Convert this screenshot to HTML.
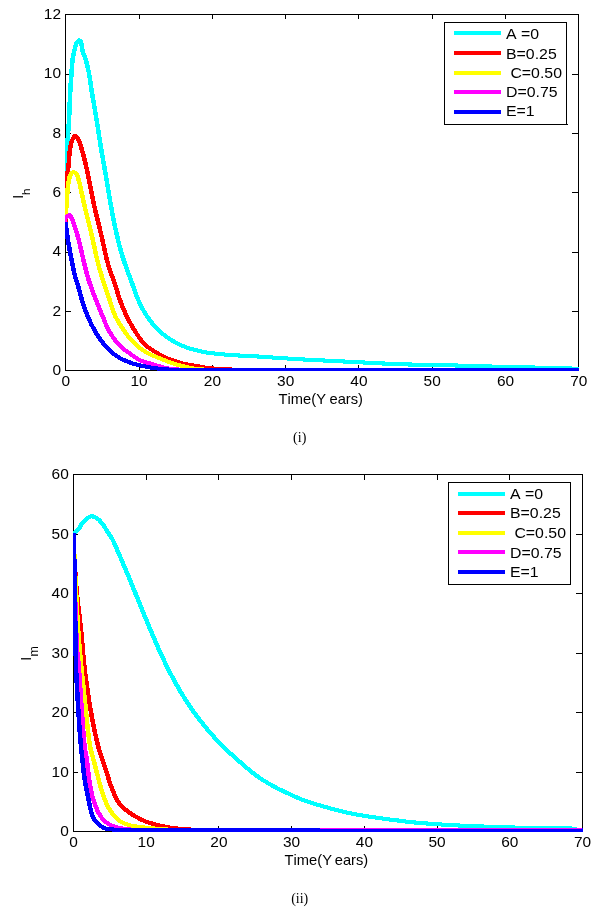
<!DOCTYPE html>
<html><head><meta charset="utf-8"><title>Figure</title>
<style>
html,body{margin:0;padding:0;background:#fff}
svg{display:block}
text{font-family:"Liberation Sans",sans-serif;fill:#000;font-kerning:none;white-space:pre}
.ser{font-family:"Liberation Serif",serif}
</style></head><body>
<svg width="607" height="911" viewBox="0 0 607 911">
<rect width="607" height="911" fill="#fff"/>
<defs><clipPath id="c1"><rect x="65" y="10" width="514" height="361"/></clipPath><clipPath id="c2"><rect x="73" y="470" width="510" height="366"/></clipPath></defs>
<g shape-rendering="crispEdges" stroke="#000" stroke-width="1" fill="none">
<rect x="65.5" y="14.5" width="513.0" height="356.0"/>
<path d="M139.5 370.5v-6M139.5 14.5v4.5M212.5 370.5v-6M212.5 14.5v4.5M285.5 370.5v-6M285.5 14.5v4.5M358.5 370.5v-6M358.5 14.5v4.5M432.5 370.5v-6M432.5 14.5v4.5M505.5 370.5v-6M505.5 14.5v4.5M65.5 311.5h5.5M578.5 311.5h-6.5M65.5 252.5h5.5M578.5 252.5h-6.5M65.5 192.5h5.5M578.5 192.5h-6.5M65.5 133.5h5.5M578.5 133.5h-6.5M65.5 74.5h5.5M578.5 74.5h-6.5"/></g>
<g clip-path="url(#c1)"><g transform="scale(1.1 1)" fill="none" stroke-width="4.1" stroke-linejoin="round" shape-rendering="crispEdges">
<path stroke="#00ffff" d="M59.55 222.00 L59.61 219.71 L59.67 217.42 L59.73 215.13 L59.80 212.84 L59.86 210.55 L59.92 208.26 L59.98 205.97 L60.04 203.68 L60.10 201.39 L60.16 199.10 L60.22 196.81 L60.28 194.52 L60.33 192.23 L60.39 189.94 L60.45 187.65 L60.51 185.36 L60.56 183.08 L60.62 180.79 L60.67 178.50 L60.72 176.21 L60.77 173.91 L60.82 171.62 L60.86 169.33 L60.91 167.04 L60.95 164.75 L60.99 162.46 L61.04 160.17 L61.08 157.88 L61.13 155.59 L61.18 153.30 L61.23 151.01 L61.29 148.72 L61.35 146.43 L61.41 144.14 L61.48 141.85 L61.56 139.57 L61.66 137.28 L61.79 134.99 L61.93 132.71 L62.09 130.42 L62.25 128.14 L62.41 125.86 L62.57 123.57 L62.70 121.28 L62.82 119.00 L62.91 116.71 L62.99 114.42 L63.07 112.13 L63.15 109.84 L63.24 107.55 L63.32 105.26 L63.41 102.98 L63.50 100.69 L63.59 98.40 L63.69 96.11 L63.79 93.82 L63.89 91.53 L64.00 89.25 L64.12 86.96 L64.25 84.67 L64.39 82.39 L64.54 80.10 L64.69 77.82 L64.84 75.53 L64.99 73.25 L65.14 70.96 L65.28 68.67 L65.43 66.38 L65.60 64.10 L65.79 61.82 L66.02 59.55 L66.31 57.29 L66.67 55.03 L67.09 52.78 L67.56 50.54 L68.07 48.32 L68.66 46.10 L69.37 43.94 L70.24 41.84 L71.66 40.22 L73.29 41.16 L73.92 43.42 L74.29 45.67 L74.55 47.96 L74.90 50.21 L75.47 52.39 L76.20 54.55 L76.97 56.69 L77.68 58.85 L78.25 61.05 L78.79 63.26 L79.31 65.48 L79.80 67.71 L80.26 69.95 L80.69 72.20 L81.08 74.44 L81.43 76.70 L81.75 78.96 L82.05 81.23 L82.33 83.50 L82.61 85.77 L82.91 88.04 L83.24 90.30 L83.58 92.56 L83.93 94.82 L84.28 97.07 L84.65 99.33 L85.01 101.59 L85.37 103.84 L85.73 106.10 L86.08 108.36 L86.43 110.62 L86.77 112.88 L87.10 115.14 L87.44 117.40 L87.77 119.66 L88.10 121.92 L88.42 124.18 L88.75 126.45 L89.07 128.71 L89.39 130.97 L89.71 133.24 L90.03 135.50 L90.35 137.76 L90.67 140.03 L91.00 142.29 L91.33 144.55 L91.66 146.81 L92.00 149.07 L92.34 151.33 L92.69 153.59 L93.04 155.85 L93.40 158.10 L93.77 160.36 L94.13 162.61 L94.50 164.87 L94.87 167.12 L95.23 169.38 L95.60 171.63 L95.96 173.89 L96.32 176.14 L96.68 178.40 L97.03 180.66 L97.37 182.92 L97.71 185.18 L98.05 187.44 L98.38 189.70 L98.71 191.96 L99.05 194.22 L99.39 196.48 L99.73 198.74 L100.08 201.00 L100.44 203.26 L100.81 205.51 L101.19 207.76 L101.57 210.01 L101.96 212.27 L102.35 214.52 L102.75 216.77 L103.15 219.01 L103.56 221.26 L103.98 223.51 L104.40 225.75 L104.83 227.99 L105.27 230.23 L105.72 232.46 L106.18 234.70 L106.65 236.93 L107.13 239.16 L107.62 241.39 L108.13 243.61 L108.65 245.83 L109.18 248.05 L109.73 250.26 L110.29 252.46 L110.88 254.65 L111.49 256.84 L112.12 259.02 L112.78 261.19 L113.45 263.36 L114.14 265.52 L114.85 267.68 L115.56 269.83 L116.28 271.99 L117.00 274.14 L117.72 276.29 L118.43 278.44 L119.14 280.60 L119.87 282.74 L120.60 284.89 L121.31 287.04 L122.01 289.21 L122.70 291.37 L123.40 293.53 L124.12 295.68 L124.88 297.81 L125.68 299.91 L126.53 302.00 L127.41 304.09 L128.34 306.16 L129.30 308.21 L130.29 310.23 L131.33 312.22 L132.41 314.15 L133.53 316.05 L134.71 317.93 L135.94 319.80 L137.21 321.64 L138.53 323.45 L139.89 325.23 L141.29 326.95 L142.71 328.62 L144.17 330.22 L145.66 331.77 L147.22 333.26 L148.84 334.72 L150.51 336.12 L152.22 337.47 L153.96 338.76 L155.71 339.99 L157.49 341.16 L159.30 342.29 L161.14 343.39 L163.02 344.42 L164.91 345.39 L166.83 346.27 L168.76 347.07 L170.73 347.82 L172.72 348.52 L174.72 349.17 L176.74 349.77 L178.76 350.33 L180.78 350.87 L182.81 351.38 L184.85 351.86 L186.90 352.29 L188.96 352.66 L191.01 352.98 L193.07 353.26 L195.14 353.53 L197.21 353.79 L199.28 354.02 L201.36 354.24 L203.43 354.45 L205.51 354.64 L207.59 354.83 L209.67 355.00 L211.75 355.16 L213.82 355.31 L215.90 355.45 L217.98 355.57 L220.06 355.69 L222.14 355.80 L224.22 355.91 L226.30 356.01 L228.38 356.12 L230.46 356.23 L232.54 356.36 L234.62 356.49 L236.70 356.63 L238.78 356.79 L240.85 356.95 L242.93 357.12 L245.01 357.29 L247.08 357.46 L249.16 357.63 L251.24 357.79 L253.31 357.94 L255.39 358.09 L257.47 358.24 L259.55 358.38 L261.63 358.53 L263.71 358.67 L265.78 358.81 L267.86 358.95 L269.94 359.08 L272.02 359.22 L274.10 359.35 L276.18 359.48 L278.26 359.60 L280.34 359.73 L282.42 359.85 L284.50 359.97 L286.58 360.08 L288.66 360.20 L290.74 360.31 L292.82 360.42 L294.90 360.53 L296.98 360.64 L299.06 360.75 L301.14 360.86 L303.22 360.98 L305.30 361.09 L307.38 361.21 L309.46 361.32 L311.54 361.43 L313.61 361.55 L315.69 361.66 L317.77 361.78 L319.85 361.89 L321.93 362.01 L324.01 362.12 L326.09 362.24 L328.17 362.35 L330.25 362.46 L332.33 362.58 L334.41 362.70 L336.49 362.83 L338.57 362.95 L340.65 363.07 L342.73 363.19 L344.81 363.31 L346.89 363.42 L348.97 363.53 L351.05 363.64 L353.13 363.74 L355.21 363.83 L357.29 363.92 L359.37 364.00 L361.45 364.09 L363.53 364.17 L365.62 364.25 L367.70 364.33 L369.78 364.41 L371.86 364.48 L373.94 364.54 L376.02 364.60 L378.11 364.66 L380.19 364.70 L382.27 364.75 L384.35 364.78 L386.43 364.81 L388.52 364.84 L390.60 364.87 L392.68 364.90 L394.76 364.94 L396.85 364.97 L398.93 365.02 L401.01 365.07 L403.09 365.12 L405.17 365.18 L407.25 365.25 L409.34 365.31 L411.42 365.38 L413.50 365.46 L415.58 365.53 L417.66 365.60 L419.74 365.67 L421.82 365.74 L423.91 365.81 L425.99 365.87 L428.07 365.94 L430.15 366.01 L432.23 366.08 L434.31 366.15 L436.39 366.22 L438.48 366.28 L440.56 366.35 L442.64 366.41 L444.72 366.48 L446.80 366.54 L448.88 366.59 L450.97 366.65 L453.05 366.70 L455.13 366.75 L457.21 366.80 L459.29 366.84 L461.38 366.89 L463.46 366.94 L465.54 366.98 L467.62 367.03 L469.70 367.08 L471.79 367.13 L473.87 367.18 L475.95 367.24 L478.03 367.30 L480.11 367.36 L482.19 367.43 L484.28 367.49 L486.36 367.56 L488.44 367.63 L490.52 367.70 L492.60 367.77 L494.68 367.84 L496.76 367.90 L498.85 367.97 L500.93 368.03 L503.01 368.09 L505.09 368.15 L507.17 368.20 L509.25 368.26 L511.34 368.32 L513.42 368.38 L515.50 368.43 L517.58 368.49 L519.66 368.54 L521.75 368.60 L523.83 368.65 L525.91 368.70"/>
<path stroke="#ff0000" d="M59.55 222.00 L59.57 220.12 L59.59 218.25 L59.62 216.37 L59.66 214.49 L59.69 212.62 L59.73 210.74 L59.78 208.87 L59.82 206.99 L59.87 205.12 L59.91 203.24 L59.96 201.36 L60.01 199.49 L60.07 197.61 L60.12 195.74 L60.18 193.86 L60.24 191.98 L60.31 190.11 L60.38 188.23 L60.46 186.36 L60.55 184.48 L60.64 182.61 L60.74 180.74 L60.84 178.87 L60.99 177.00 L61.17 175.14 L61.37 173.27 L61.59 171.41 L61.81 169.55 L62.03 167.69 L62.24 165.82 L62.41 163.96 L62.56 162.08 L62.69 160.21 L62.81 158.33 L62.94 156.45 L63.07 154.58 L63.23 152.71 L63.41 150.86 L63.63 149.01 L63.92 147.14 L64.28 145.26 L64.70 143.40 L65.20 141.60 L65.78 139.88 L66.53 138.10 L67.61 136.28 L68.73 135.77 L69.90 137.14 L70.89 138.94 L71.64 140.57 L72.29 142.29 L72.87 144.07 L73.41 145.89 L73.91 147.72 L74.41 149.53 L74.89 151.32 L75.35 153.13 L75.80 154.94 L76.22 156.76 L76.63 158.58 L77.03 160.41 L77.43 162.24 L77.82 164.06 L78.20 165.89 L78.58 167.72 L78.95 169.55 L79.31 171.39 L79.67 173.22 L80.02 175.06 L80.37 176.90 L80.71 178.73 L81.05 180.57 L81.39 182.41 L81.71 184.25 L82.04 186.10 L82.36 187.94 L82.68 189.78 L83.01 191.62 L83.34 193.46 L83.68 195.30 L84.02 197.14 L84.36 198.98 L84.70 200.82 L85.05 202.65 L85.41 204.49 L85.77 206.32 L86.14 208.15 L86.52 209.98 L86.91 211.81 L87.31 213.63 L87.70 215.46 L88.11 217.28 L88.51 219.10 L88.92 220.93 L89.34 222.75 L89.75 224.57 L90.16 226.39 L90.57 228.21 L90.98 230.03 L91.38 231.86 L91.78 233.68 L92.17 235.51 L92.56 237.34 L92.94 239.17 L93.31 241.00 L93.67 242.84 L94.04 244.67 L94.40 246.51 L94.76 248.35 L95.13 250.18 L95.50 252.02 L95.88 253.85 L96.27 255.67 L96.66 257.50 L97.07 259.32 L97.49 261.13 L97.93 262.94 L98.39 264.74 L98.87 266.53 L99.39 268.32 L99.92 270.10 L100.48 271.87 L101.05 273.64 L101.63 275.40 L102.22 277.17 L102.80 278.94 L103.38 280.71 L103.95 282.48 L104.50 284.26 L105.03 286.04 L105.55 287.83 L106.05 289.62 L106.55 291.42 L107.04 293.22 L107.55 295.01 L108.07 296.80 L108.61 298.57 L109.18 300.34 L109.76 302.10 L110.37 303.86 L110.99 305.61 L111.63 307.35 L112.28 309.09 L112.95 310.82 L113.64 312.53 L114.35 314.23 L115.07 315.93 L115.82 317.61 L116.59 319.29 L117.37 320.97 L118.18 322.63 L119.01 324.27 L119.85 325.91 L120.72 327.52 L121.60 329.12 L122.50 330.71 L123.42 332.31 L124.35 333.91 L125.30 335.51 L126.27 337.08 L127.27 338.63 L128.31 340.14 L129.37 341.59 L130.48 342.98 L131.63 344.29 L132.85 345.54 L134.15 346.74 L135.51 347.89 L136.92 349.00 L138.36 350.06 L139.81 351.07 L141.25 352.05 L142.71 353.01 L144.20 353.95 L145.70 354.86 L147.22 355.74 L148.75 356.59 L150.30 357.40 L151.86 358.17 L153.42 358.89 L155.00 359.57 L156.59 360.22 L158.20 360.85 L159.82 361.46 L161.46 362.04 L163.10 362.58 L164.74 363.08 L166.40 363.55 L168.05 363.97 L169.71 364.35 L171.39 364.71 L173.07 365.04 L174.75 365.35 L176.44 365.66 L178.13 365.96 L179.81 366.27 L181.49 366.58 L183.17 366.91 L184.86 367.24 L186.54 367.56 L188.23 367.84 L189.92 368.08 L191.61 368.27 L193.30 368.44 L195.00 368.60 L196.70 368.74 L198.41 368.88 L200.11 369.00 L201.81 369.11 L203.52 369.21 L205.23 369.30 L206.93 369.38 L208.63 369.46 L210.34 369.53 L212.04 369.61 L213.75 369.68 L215.45 369.74 L217.16 369.80 L218.86 369.86 L220.57 369.91 L222.27 369.95 L223.98 369.98 L225.69 369.99 L227.39 370.00 L229.10 370.00 L230.80 370.00 L232.51 370.00 L234.21 370.00 L235.92 370.00 L237.62 370.00 L239.33 370.00 L241.03 370.00 L242.74 370.00 L244.45 370.00 L246.15 370.00 L247.86 370.00 L249.56 370.00 L251.27 370.00 L252.97 370.00 L254.68 370.00 L256.38 370.00 L258.09 370.00 L259.79 370.00 L261.50 370.00 L263.21 370.00 L264.91 370.00 L266.62 370.00 L268.32 370.00 L270.03 370.00 L271.73 370.00 L273.44 370.00 L275.14 370.00 L276.85 370.00 L278.55 370.00 L280.26 370.00 L281.97 370.00 L283.67 370.00 L285.38 370.00 L287.08 370.00 L288.79 370.00 L290.49 370.00 L292.20 370.00 L293.90 370.00 L295.61 370.00 L297.32 370.00 L299.02 370.00 L300.73 370.00 L302.43 370.00 L304.14 370.00 L305.84 370.00 L307.55 370.00 L309.25 370.00 L310.96 370.00 L312.67 370.00 L314.37 370.00 L316.08 370.00 L317.78 370.00 L319.49 370.00 L321.19 370.00 L322.90 370.00 L324.60 370.00 L326.31 370.00 L328.02 370.00 L329.72 370.00 L331.43 370.00 L333.13 370.00 L334.84 370.00 L336.54 370.00 L338.25 370.00 L339.96 370.00 L341.66 370.00 L343.37 370.00 L345.07 370.00 L346.78 370.00 L348.48 370.00 L350.19 370.00 L351.90 370.00 L353.60 370.00 L355.31 370.00 L357.01 370.00 L358.72 370.00 L360.42 370.00 L362.13 370.00 L363.84 370.00 L365.54 370.00 L367.25 370.00 L368.95 370.00 L370.66 370.00 L372.36 370.00 L374.07 370.00 L375.78 370.00 L377.48 370.00 L379.19 370.00 L380.89 370.00 L382.60 370.00 L384.30 370.00 L386.01 370.00 L387.72 370.00 L389.42 370.00 L391.13 370.00 L392.83 370.00 L394.54 370.00 L396.24 370.00 L397.95 370.00 L399.66 370.00 L401.36 370.00 L403.07 370.00 L404.77 370.00 L406.48 370.00 L408.19 370.00 L409.89 370.00 L411.60 370.00 L413.30 370.00 L415.01 370.00 L416.72 370.00 L418.42 370.00 L420.13 370.00 L421.83 370.00 L423.54 370.00 L425.25 370.00 L426.95 370.00 L428.66 370.00 L430.36 370.00 L432.07 370.00 L433.77 370.00 L435.48 370.00 L437.19 370.00 L438.89 370.00 L440.60 370.00 L442.30 370.00 L444.01 370.00 L445.72 370.00 L447.42 370.00 L449.13 370.00 L450.84 370.00 L452.54 370.00 L454.25 370.00 L455.95 370.00 L457.66 370.00 L459.37 370.00 L461.07 370.00 L462.78 370.00 L464.48 370.00 L466.19 370.00 L467.90 370.00 L469.60 370.00 L471.31 370.00 L473.01 370.00 L474.72 370.00 L476.43 370.00 L478.13 370.00 L479.84 370.00 L481.55 370.00 L483.25 370.00 L484.96 370.00 L486.66 370.00 L488.37 370.00 L490.08 370.00 L491.78 370.00 L493.49 370.00 L495.20 370.00 L496.90 370.00 L498.61 370.00 L500.31 370.00 L502.02 370.00 L503.73 370.00 L505.43 370.00 L507.14 370.00 L508.85 370.00 L510.55 370.00 L512.26 370.00 L513.96 370.00 L515.67 370.00 L517.38 370.00 L519.08 370.00 L520.79 370.00 L522.50 370.00 L524.20 370.00 L525.91 370.00"/>
<path stroke="#ffff00" d="M59.27 216.00 L59.53 214.32 L59.77 212.63 L59.98 210.94 L60.16 209.25 L60.30 207.55 L60.41 205.85 L60.51 204.15 L60.60 202.45 L60.69 200.75 L60.78 199.04 L60.87 197.34 L60.98 195.64 L61.10 193.94 L61.24 192.24 L61.39 190.53 L61.55 188.83 L61.72 187.12 L61.91 185.42 L62.12 183.73 L62.36 182.05 L62.63 180.38 L62.93 178.73 L63.32 177.02 L63.84 175.37 L64.49 173.89 L65.57 172.63 L67.05 172.20 L68.51 172.69 L69.54 174.01 L70.22 175.49 L70.76 177.11 L71.22 178.77 L71.65 180.40 L72.05 182.05 L72.41 183.70 L72.76 185.36 L73.09 187.03 L73.41 188.71 L73.72 190.38 L74.04 192.05 L74.38 193.72 L74.72 195.38 L75.06 197.05 L75.40 198.71 L75.73 200.38 L76.07 202.04 L76.41 203.70 L76.76 205.36 L77.11 207.03 L77.47 208.68 L77.83 210.34 L78.19 212.00 L78.56 213.66 L78.93 215.31 L79.31 216.97 L79.68 218.62 L80.06 220.28 L80.43 221.93 L80.81 223.58 L81.18 225.24 L81.56 226.89 L81.93 228.55 L82.29 230.21 L82.66 231.86 L83.02 233.52 L83.38 235.18 L83.72 236.84 L84.07 238.51 L84.40 240.17 L84.73 241.84 L85.06 243.51 L85.39 245.17 L85.72 246.84 L86.04 248.51 L86.37 250.18 L86.70 251.85 L87.03 253.51 L87.37 255.18 L87.71 256.84 L88.06 258.50 L88.42 260.16 L88.79 261.81 L89.17 263.46 L89.56 265.11 L89.96 266.75 L90.37 268.39 L90.79 270.03 L91.23 271.67 L91.67 273.31 L92.12 274.94 L92.57 276.57 L93.03 278.20 L93.50 279.83 L93.97 281.46 L94.44 283.08 L94.91 284.70 L95.39 286.32 L95.88 287.94 L96.39 289.55 L96.89 291.17 L97.41 292.77 L97.92 294.38 L98.44 295.99 L98.95 297.60 L99.45 299.21 L99.95 300.83 L100.42 302.46 L100.89 304.10 L101.34 305.74 L101.80 307.37 L102.27 309.00 L102.76 310.62 L103.28 312.22 L103.84 313.80 L104.44 315.35 L105.11 316.87 L105.83 318.38 L106.60 319.87 L107.40 321.35 L108.21 322.81 L109.02 324.27 L109.83 325.72 L110.65 327.17 L111.48 328.62 L112.33 330.06 L113.20 331.48 L114.09 332.87 L115.01 334.24 L115.96 335.57 L116.93 336.88 L117.94 338.18 L118.97 339.47 L120.02 340.75 L121.10 342.00 L122.20 343.23 L123.32 344.42 L124.46 345.58 L125.63 346.69 L126.81 347.76 L128.02 348.78 L129.28 349.77 L130.58 350.72 L131.91 351.63 L133.26 352.50 L134.62 353.32 L135.99 354.09 L137.38 354.81 L138.80 355.49 L140.24 356.14 L141.68 356.77 L143.14 357.39 L144.58 358.02 L146.02 358.65 L147.46 359.30 L148.89 359.95 L150.33 360.59 L151.77 361.23 L153.22 361.84 L154.67 362.43 L156.13 362.98 L157.61 363.51 L159.09 364.01 L160.57 364.49 L162.07 364.96 L163.56 365.41 L165.06 365.85 L166.56 366.28 L168.07 366.70 L169.57 367.13 L171.08 367.54 L172.59 367.91 L174.11 368.20 L175.64 368.45 L177.18 368.68 L178.72 368.89 L180.26 369.08 L181.81 369.25 L183.35 369.40 L184.90 369.52 L186.45 369.60 L187.99 369.68 L189.54 369.74 L191.09 369.81 L192.64 369.86 L194.19 369.91 L195.74 369.95 L197.29 369.98 L198.84 370.00 L200.39 370.00 L201.94 370.00 L203.49 370.00 L205.04 370.00 L206.59 370.00 L208.14 370.00 L209.69 370.00 L211.24 370.00 L212.79 370.00 L214.34 370.00 L215.89 370.00 L217.44 370.00 L218.99 370.00 L220.54 370.00 L222.09 370.00 L223.64 370.00 L225.19 370.00 L226.74 370.00 L228.29 370.00 L229.84 370.00 L231.39 370.00 L232.94 370.00 L234.49 370.00 L236.04 370.00 L237.59 370.00 L239.14 370.00 L240.69 370.00 L242.24 370.00 L243.79 370.00 L245.34 370.00 L246.89 370.00 L248.44 370.00 L249.99 370.00 L251.54 370.00 L253.09 370.00 L254.64 370.00 L256.18 370.00 L257.73 370.00 L259.28 370.00 L260.83 370.00 L262.38 370.00 L263.93 370.00 L265.48 370.00 L267.03 370.00 L268.58 370.00 L270.13 370.00 L271.68 370.00 L273.23 370.00 L274.78 370.00 L276.33 370.00 L277.88 370.00 L279.43 370.00 L280.98 370.00 L282.53 370.00 L284.08 370.00 L285.63 370.00 L287.18 370.00 L288.73 370.00 L290.28 370.00 L291.83 370.00 L293.38 370.00 L294.93 370.00 L296.48 370.00 L298.03 370.00 L299.58 370.00 L301.13 370.00 L302.68 370.00 L304.23 370.00 L305.78 370.00 L307.33 370.00 L308.88 370.00 L310.43 370.00 L311.98 370.00 L313.53 370.00 L315.08 370.00 L316.63 370.00 L318.18 370.00 L319.73 370.00 L321.28 370.00 L322.83 370.00 L324.38 370.00 L325.93 370.00 L327.48 370.00 L329.03 370.00 L330.58 370.00 L332.13 370.00 L333.68 370.00 L335.23 370.00 L336.78 370.00 L338.33 370.00 L339.88 370.00 L341.43 370.00 L342.98 370.00 L344.53 370.00 L346.08 370.00 L347.63 370.00 L349.18 370.00 L350.73 370.00 L352.28 370.00 L353.83 370.00 L355.38 370.00 L356.93 370.00 L358.48 370.00 L360.03 370.00 L361.58 370.00 L363.13 370.00 L364.68 370.00 L366.23 370.00 L367.78 370.00 L369.33 370.00 L370.88 370.00 L372.43 370.00 L373.98 370.00 L375.53 370.00 L377.08 370.00 L378.63 370.00 L380.18 370.00 L381.73 370.00 L383.28 370.00 L384.83 370.00 L386.38 370.00 L387.93 370.00 L389.48 370.00 L391.03 370.00 L392.58 370.00 L394.13 370.00 L395.68 370.00 L397.23 370.00 L398.78 370.00 L400.33 370.00 L401.88 370.00 L403.43 370.00 L404.98 370.00 L406.53 370.00 L408.08 370.00 L409.63 370.00 L411.18 370.00 L412.73 370.00 L414.28 370.00 L415.83 370.00 L417.38 370.00 L418.93 370.00 L420.48 370.00 L422.03 370.00 L423.58 370.00 L425.13 370.00 L426.68 370.00 L428.23 370.00 L429.78 370.00 L431.33 370.00 L432.88 370.00 L434.43 370.00 L435.98 370.00 L437.53 370.00 L439.09 370.00 L440.64 370.00 L442.19 370.00 L443.74 370.00 L445.29 370.00 L446.84 370.00 L448.39 370.00 L449.94 370.00 L451.49 370.00 L453.04 370.00 L454.59 370.00 L456.14 370.00 L457.69 370.00 L459.24 370.00 L460.79 370.00 L462.34 370.00 L463.89 370.00 L465.44 370.00 L466.99 370.00 L468.54 370.00 L470.09 370.00 L471.64 370.00 L473.19 370.00 L474.74 370.00 L476.29 370.00 L477.84 370.00 L479.39 370.00 L480.94 370.00 L482.49 370.00 L484.05 370.00 L485.60 370.00 L487.15 370.00 L488.70 370.00 L490.25 370.00 L491.80 370.00 L493.35 370.00 L494.90 370.00 L496.45 370.00 L498.00 370.00 L499.55 370.00 L501.10 370.00 L502.65 370.00 L504.20 370.00 L505.75 370.00 L507.30 370.00 L508.85 370.00 L510.40 370.00 L511.95 370.00 L513.50 370.00 L515.06 370.00 L516.61 370.00 L518.16 370.00 L519.71 370.00 L521.26 370.00 L522.81 370.00 L524.36 370.00 L525.91 370.00"/>
<path stroke="#ff00ff" d="M58.64 222.00 L58.89 220.40 L59.36 218.94 L59.95 217.60 L60.78 216.30 L61.96 215.55 L63.27 215.32 L64.19 216.12 L64.96 217.64 L65.62 219.31 L66.18 220.72 L66.65 222.15 L67.07 223.63 L67.47 225.12 L67.89 226.61 L68.32 228.07 L68.77 229.53 L69.22 230.99 L69.65 232.46 L70.07 233.93 L70.45 235.41 L70.83 236.89 L71.18 238.38 L71.53 239.87 L71.87 241.36 L72.20 242.86 L72.53 244.36 L72.85 245.86 L73.17 247.36 L73.50 248.86 L73.82 250.36 L74.14 251.86 L74.45 253.36 L74.75 254.86 L75.06 256.37 L75.36 257.87 L75.67 259.37 L75.98 260.88 L76.30 262.37 L76.63 263.87 L76.97 265.37 L77.31 266.86 L77.65 268.35 L78.01 269.85 L78.36 271.34 L78.72 272.82 L79.10 274.31 L79.48 275.79 L79.86 277.27 L80.27 278.75 L80.68 280.21 L81.12 281.68 L81.58 283.13 L82.05 284.59 L82.52 286.04 L82.99 287.49 L83.46 288.94 L83.94 290.38 L84.43 291.83 L84.91 293.27 L85.41 294.71 L85.90 296.15 L86.41 297.59 L86.91 299.03 L87.42 300.46 L87.93 301.90 L88.45 303.33 L88.98 304.75 L89.51 306.18 L90.04 307.60 L90.58 309.03 L91.11 310.45 L91.65 311.87 L92.19 313.29 L92.73 314.71 L93.26 316.14 L93.79 317.58 L94.30 319.02 L94.82 320.47 L95.33 321.91 L95.86 323.34 L96.41 324.77 L96.97 326.17 L97.56 327.56 L98.18 328.92 L98.83 330.26 L99.51 331.59 L100.22 332.92 L100.96 334.25 L101.73 335.57 L102.52 336.87 L103.34 338.15 L104.18 339.41 L105.04 340.65 L105.92 341.85 L106.82 343.02 L107.73 344.15 L108.67 345.24 L109.64 346.30 L110.65 347.32 L111.70 348.32 L112.78 349.30 L113.89 350.25 L115.02 351.19 L116.17 352.10 L117.33 353.01 L118.50 353.90 L119.66 354.79 L120.82 355.67 L121.97 356.55 L123.12 357.45 L124.28 358.36 L125.45 359.21 L126.66 359.97 L127.90 360.60 L129.20 361.13 L130.53 361.61 L131.88 362.06 L133.24 362.48 L134.60 362.91 L135.94 363.36 L137.28 363.82 L138.61 364.27 L139.95 364.72 L141.30 365.16 L142.64 365.59 L143.99 366.02 L145.33 366.43 L146.68 366.86 L148.04 367.29 L149.39 367.69 L150.75 368.03 L152.12 368.28 L153.50 368.51 L154.89 368.72 L156.28 368.91 L157.67 369.09 L159.07 369.25 L160.47 369.38 L161.87 369.49 L163.27 369.58 L164.66 369.65 L166.06 369.71 L167.46 369.77 L168.86 369.83 L170.26 369.87 L171.66 369.92 L173.06 369.95 L174.46 369.98 L175.86 369.99 L177.26 370.00 L178.66 370.00 L180.06 370.00 L181.46 370.00 L182.86 370.00 L184.26 370.00 L185.66 370.00 L187.06 370.00 L188.46 370.00 L189.86 370.00 L191.26 370.00 L192.66 370.00 L194.06 370.00 L195.46 370.00 L196.86 370.00 L198.26 370.00 L199.66 370.00 L201.06 370.00 L202.46 370.00 L203.86 370.00 L205.26 370.00 L206.66 370.00 L208.06 370.00 L209.46 370.00 L210.86 370.00 L212.26 370.00 L213.66 370.00 L215.06 370.00 L216.46 370.00 L217.86 370.00 L219.26 370.00 L220.66 370.00 L222.06 370.00 L223.46 370.00 L224.86 370.00 L226.26 370.00 L227.66 370.00 L229.06 370.00 L230.46 370.00 L231.86 370.00 L233.26 370.00 L234.66 370.00 L236.06 370.00 L237.46 370.00 L238.86 370.00 L240.26 370.00 L241.66 370.00 L243.06 370.00 L244.46 370.00 L245.86 370.00 L247.26 370.00 L248.66 370.00 L250.06 370.00 L251.46 370.00 L252.86 370.00 L254.26 370.00 L255.66 370.00 L257.06 370.00 L258.46 370.00 L259.86 370.00 L261.26 370.00 L262.66 370.00 L264.06 370.00 L265.46 370.00 L266.86 370.00 L268.26 370.00 L269.66 370.00 L271.06 370.00 L272.46 370.00 L273.86 370.00 L275.26 370.00 L276.66 370.00 L278.06 370.00 L279.46 370.00 L280.86 370.00 L282.26 370.00 L283.66 370.00 L285.06 370.00 L286.46 370.00 L287.86 370.00 L289.26 370.00 L290.66 370.00 L292.06 370.00 L293.46 370.00 L294.86 370.00 L296.26 370.00 L297.66 370.00 L299.06 370.00 L300.46 370.00 L301.86 370.00 L303.26 370.00 L304.66 370.00 L306.06 370.00 L307.46 370.00 L308.86 370.00 L310.26 370.00 L311.66 370.00 L313.06 370.00 L314.46 370.00 L315.86 370.00 L317.26 370.00 L318.66 370.00 L320.06 370.00 L321.46 370.00 L322.86 370.00 L324.26 370.00 L325.66 370.00 L327.06 370.00 L328.46 370.00 L329.86 370.00 L331.26 370.00 L332.66 370.00 L334.06 370.00 L335.46 370.00 L336.86 370.00 L338.26 370.00 L339.66 370.00 L341.06 370.00 L342.46 370.00 L343.86 370.00 L345.26 370.00 L346.66 370.00 L348.06 370.00 L349.46 370.00 L350.86 370.00 L352.26 370.00 L353.66 370.00 L355.06 370.00 L356.46 370.00 L357.86 370.00 L359.26 370.00 L360.66 370.00 L362.06 370.00 L363.46 370.00 L364.86 370.00 L366.26 370.00 L367.66 370.00 L369.06 370.00 L370.46 370.00 L371.86 370.00 L373.26 370.00 L374.66 370.00 L376.06 370.00 L377.46 370.00 L378.86 370.00 L380.27 370.00 L381.67 370.00 L383.07 370.00 L384.47 370.00 L385.87 370.00 L387.27 370.00 L388.67 370.00 L390.07 370.00 L391.47 370.00 L392.87 370.00 L394.27 370.00 L395.67 370.00 L397.07 370.00 L398.47 370.00 L399.87 370.00 L401.27 370.00 L402.67 370.00 L404.07 370.00 L405.47 370.00 L406.87 370.00 L408.27 370.00 L409.67 370.00 L411.07 370.00 L412.47 370.00 L413.87 370.00 L415.27 370.00 L416.67 370.00 L418.07 370.00 L419.47 370.00 L420.87 370.00 L422.27 370.00 L423.67 370.00 L425.07 370.00 L426.47 370.00 L427.87 370.00 L429.27 370.00 L430.68 370.00 L432.08 370.00 L433.48 370.00 L434.88 370.00 L436.28 370.00 L437.68 370.00 L439.08 370.00 L440.48 370.00 L441.88 370.00 L443.28 370.00 L444.68 370.00 L446.08 370.00 L447.48 370.00 L448.88 370.00 L450.28 370.00 L451.68 370.00 L453.08 370.00 L454.48 370.00 L455.88 370.00 L457.28 370.00 L458.68 370.00 L460.08 370.00 L461.48 370.00 L462.88 370.00 L464.28 370.00 L465.69 370.00 L467.09 370.00 L468.49 370.00 L469.89 370.00 L471.29 370.00 L472.69 370.00 L474.09 370.00 L475.49 370.00 L476.89 370.00 L478.29 370.00 L479.69 370.00 L481.09 370.00 L482.49 370.00 L483.89 370.00 L485.29 370.00 L486.69 370.00 L488.09 370.00 L489.49 370.00 L490.89 370.00 L492.29 370.00 L493.70 370.00 L495.10 370.00 L496.50 370.00 L497.90 370.00 L499.30 370.00 L500.70 370.00 L502.10 370.00 L503.50 370.00 L504.90 370.00 L506.30 370.00 L507.70 370.00 L509.10 370.00 L510.50 370.00 L511.90 370.00 L513.30 370.00 L514.70 370.00 L516.10 370.00 L517.51 370.00 L518.91 370.00 L520.31 370.00 L521.71 370.00 L523.11 370.00 L524.51 370.00 L525.91 370.00"/>
<path stroke="#0000ff" d="M59.55 222.00 L59.72 223.52 L59.89 225.04 L60.07 226.56 L60.24 228.08 L60.42 229.60 L60.60 231.11 L60.78 232.63 L60.96 234.15 L61.16 235.67 L61.35 237.18 L61.56 238.70 L61.78 240.21 L62.00 241.72 L62.24 243.23 L62.49 244.73 L62.73 246.24 L62.98 247.75 L63.23 249.25 L63.48 250.76 L63.73 252.27 L63.98 253.77 L64.23 255.28 L64.48 256.79 L64.74 258.29 L65.00 259.80 L65.27 261.30 L65.54 262.80 L65.82 264.30 L66.10 265.80 L66.38 267.30 L66.67 268.80 L66.96 270.30 L67.26 271.80 L67.57 273.29 L67.89 274.78 L68.22 276.27 L68.57 277.75 L68.94 279.22 L69.36 280.68 L69.82 282.12 L70.29 283.57 L70.73 285.02 L71.13 286.48 L71.51 287.96 L71.88 289.43 L72.24 290.91 L72.59 292.40 L72.94 293.88 L73.30 295.36 L73.67 296.84 L74.05 298.31 L74.45 299.77 L74.86 301.23 L75.28 302.69 L75.71 304.15 L76.15 305.61 L76.60 307.06 L77.06 308.51 L77.53 309.95 L78.01 311.39 L78.51 312.82 L79.01 314.24 L79.53 315.65 L80.07 317.07 L80.62 318.48 L81.18 319.88 L81.76 321.28 L82.35 322.67 L82.96 324.06 L83.58 325.43 L84.22 326.79 L84.87 328.14 L85.53 329.48 L86.21 330.81 L86.91 332.14 L87.62 333.47 L88.35 334.79 L89.10 336.11 L89.86 337.41 L90.65 338.69 L91.45 339.95 L92.27 341.18 L93.11 342.39 L93.98 343.56 L94.86 344.70 L95.77 345.83 L96.72 346.96 L97.69 348.08 L98.68 349.19 L99.70 350.28 L100.75 351.34 L101.81 352.38 L102.89 353.39 L103.99 354.36 L105.11 355.29 L106.24 356.16 L107.38 356.99 L108.54 357.75 L109.72 358.47 L110.93 359.16 L112.18 359.82 L113.46 360.45 L114.75 361.06 L116.06 361.64 L117.38 362.19 L118.71 362.72 L120.04 363.22 L121.37 363.71 L122.69 364.17 L124.03 364.60 L125.37 365.00 L126.73 365.36 L128.08 365.70 L129.44 366.01 L130.81 366.30 L132.18 366.58 L133.55 366.85 L134.93 367.10 L136.30 367.36 L137.67 367.61 L139.05 367.87 L140.42 368.12 L141.80 368.35 L143.18 368.55 L144.56 368.72 L145.94 368.87 L147.33 369.00 L148.71 369.13 L150.10 369.26 L151.49 369.38 L152.88 369.50 L154.27 369.61 L155.66 369.71 L157.05 369.80 L158.44 369.87 L159.84 369.93 L161.23 369.97 L162.62 369.99 L164.01 370.00 L165.40 370.00 L166.79 370.00 L168.18 370.00 L169.57 370.00 L170.96 370.00 L172.35 370.00 L173.74 370.00 L175.13 370.00 L176.52 370.00 L177.91 370.00 L179.30 370.00 L180.69 370.00 L182.08 370.00 L183.47 370.00 L184.86 370.00 L186.26 370.00 L187.65 370.00 L189.04 370.00 L190.43 370.00 L191.82 370.00 L193.21 370.00 L194.60 370.00 L195.99 370.00 L197.38 370.00 L198.77 370.00 L200.16 370.00 L201.55 370.00 L202.94 370.00 L204.33 370.00 L205.72 370.00 L207.11 370.00 L208.50 370.00 L209.89 370.00 L211.28 370.00 L212.68 370.00 L214.07 370.00 L215.46 370.00 L216.85 370.00 L218.24 370.00 L219.63 370.00 L221.02 370.00 L222.41 370.00 L223.80 370.00 L225.19 370.00 L226.58 370.00 L227.97 370.00 L229.36 370.00 L230.75 370.00 L232.14 370.00 L233.54 370.00 L234.93 370.00 L236.32 370.00 L237.71 370.00 L239.10 370.00 L240.49 370.00 L241.88 370.00 L243.27 370.00 L244.66 370.00 L246.05 370.00 L247.44 370.00 L248.83 370.00 L250.22 370.00 L251.62 370.00 L253.01 370.00 L254.40 370.00 L255.79 370.00 L257.18 370.00 L258.57 370.00 L259.96 370.00 L261.35 370.00 L262.74 370.00 L264.13 370.00 L265.52 370.00 L266.92 370.00 L268.31 370.00 L269.70 370.00 L271.09 370.00 L272.48 370.00 L273.87 370.00 L275.26 370.00 L276.65 370.00 L278.04 370.00 L279.44 370.00 L280.83 370.00 L282.22 370.00 L283.61 370.00 L285.00 370.00 L286.39 370.00 L287.78 370.00 L289.17 370.00 L290.56 370.00 L291.96 370.00 L293.35 370.00 L294.74 370.00 L296.13 370.00 L297.52 370.00 L298.91 370.00 L300.30 370.00 L301.69 370.00 L303.09 370.00 L304.48 370.00 L305.87 370.00 L307.26 370.00 L308.65 370.00 L310.04 370.00 L311.43 370.00 L312.83 370.00 L314.22 370.00 L315.61 370.00 L317.00 370.00 L318.39 370.00 L319.78 370.00 L321.17 370.00 L322.57 370.00 L323.96 370.00 L325.35 370.00 L326.74 370.00 L328.13 370.00 L329.52 370.00 L330.91 370.00 L332.31 370.00 L333.70 370.00 L335.09 370.00 L336.48 370.00 L337.87 370.00 L339.26 370.00 L340.66 370.00 L342.05 370.00 L343.44 370.00 L344.83 370.00 L346.22 370.00 L347.62 370.00 L349.01 370.00 L350.40 370.00 L351.79 370.00 L353.18 370.00 L354.57 370.00 L355.97 370.00 L357.36 370.00 L358.75 370.00 L360.14 370.00 L361.53 370.00 L362.93 370.00 L364.32 370.00 L365.71 370.00 L367.10 370.00 L368.49 370.00 L369.89 370.00 L371.28 370.00 L372.67 370.00 L374.06 370.00 L375.45 370.00 L376.85 370.00 L378.24 370.00 L379.63 370.00 L381.02 370.00 L382.41 370.00 L383.81 370.00 L385.20 370.00 L386.59 370.00 L387.98 370.00 L389.38 370.00 L390.77 370.00 L392.16 370.00 L393.55 370.00 L394.94 370.00 L396.34 370.00 L397.73 370.00 L399.12 370.00 L400.51 370.00 L401.91 370.00 L403.30 370.00 L404.69 370.00 L406.08 370.00 L407.48 370.00 L408.87 370.00 L410.26 370.00 L411.65 370.00 L413.05 370.00 L414.44 370.00 L415.83 370.00 L417.22 370.00 L418.62 370.00 L420.01 370.00 L421.40 370.00 L422.79 370.00 L424.19 370.00 L425.58 370.00 L426.97 370.00 L428.37 370.00 L429.76 370.00 L431.15 370.00 L432.54 370.00 L433.94 370.00 L435.33 370.00 L436.72 370.00 L438.12 370.00 L439.51 370.00 L440.90 370.00 L442.29 370.00 L443.69 370.00 L445.08 370.00 L446.47 370.00 L447.87 370.00 L449.26 370.00 L450.65 370.00 L452.05 370.00 L453.44 370.00 L454.83 370.00 L456.22 370.00 L457.62 370.00 L459.01 370.00 L460.40 370.00 L461.80 370.00 L463.19 370.00 L464.58 370.00 L465.98 370.00 L467.37 370.00 L468.76 370.00 L470.16 370.00 L471.55 370.00 L472.94 370.00 L474.34 370.00 L475.73 370.00 L477.12 370.00 L478.52 370.00 L479.91 370.00 L481.30 370.00 L482.70 370.00 L484.09 370.00 L485.49 370.00 L486.88 370.00 L488.27 370.00 L489.67 370.00 L491.06 370.00 L492.45 370.00 L493.85 370.00 L495.24 370.00 L496.63 370.00 L498.03 370.00 L499.42 370.00 L500.82 370.00 L502.21 370.00 L503.60 370.00 L505.00 370.00 L506.39 370.00 L507.79 370.00 L509.18 370.00 L510.57 370.00 L511.97 370.00 L513.36 370.00 L514.76 370.00 L516.15 370.00 L517.54 370.00 L518.94 370.00 L520.33 370.00 L521.73 370.00 L523.12 370.00 L524.51 370.00 L525.91 370.00"/>
</g></g>
<text transform="translate(61.0 375) scale(1.12 1)" text-anchor="end" font-size="13.8" xml:space="preserve">0</text>
<text transform="translate(61.0 316) scale(1.12 1)" text-anchor="end" font-size="13.8" xml:space="preserve">2</text>
<text transform="translate(61.0 256) scale(1.12 1)" text-anchor="end" font-size="13.8" xml:space="preserve">4</text>
<text transform="translate(61.0 197) scale(1.12 1)" text-anchor="end" font-size="13.8" xml:space="preserve">6</text>
<text transform="translate(61.0 138) scale(1.12 1)" text-anchor="end" font-size="13.8" xml:space="preserve">8</text>
<text transform="translate(61.0 78) scale(1.12 1)" text-anchor="end" font-size="13.8" xml:space="preserve">10</text>
<text transform="translate(61.0 19) scale(1.12 1)" text-anchor="end" font-size="13.8" xml:space="preserve">12</text>
<text transform="translate(65.8 386) scale(1.12 1)" text-anchor="middle" font-size="13.8" xml:space="preserve">0</text>
<text transform="translate(139.1 386) scale(1.12 1)" text-anchor="middle" font-size="13.8" xml:space="preserve">10</text>
<text transform="translate(212.4 386) scale(1.12 1)" text-anchor="middle" font-size="13.8" xml:space="preserve">20</text>
<text transform="translate(285.7 386) scale(1.12 1)" text-anchor="middle" font-size="13.8" xml:space="preserve">30</text>
<text transform="translate(358.9 386) scale(1.12 1)" text-anchor="middle" font-size="13.8" xml:space="preserve">40</text>
<text transform="translate(432.2 386) scale(1.12 1)" text-anchor="middle" font-size="13.8" xml:space="preserve">50</text>
<text transform="translate(505.5 386) scale(1.12 1)" text-anchor="middle" font-size="13.8" xml:space="preserve">60</text>
<text transform="translate(578.8 386) scale(1.12 1)" text-anchor="middle" font-size="13.8" xml:space="preserve">70</text>
<text transform="translate(278.6 403.7) scale(1.065 1)" text-anchor="start" dx="0 0 0 0 0 0 3.3" font-size="13.8" xml:space="preserve">Time(Years)</text>
<text transform="translate(22.9 198.7) rotate(-90)" font-size="14.2">I<tspan x="3.8" y="7.2" font-size="11.6">h</tspan></text>
<rect x="567" y="124" width="1" height="1" fill="#000" shape-rendering="crispEdges"/>
<rect x="444.5" y="22.5" width="122.0" height="102.0" fill="#fff" stroke="#000" stroke-width="1" shape-rendering="crispEdges"/>
<rect x="454" y="31" width="47" height="4" fill="#00ffff" shape-rendering="crispEdges"/>
<text transform="translate(506.0 39.2) scale(1.15 1)" text-anchor="start" font-size="13.8" xml:space="preserve">A =0</text>
<rect x="454" y="51" width="47" height="4" fill="#ff0000" shape-rendering="crispEdges"/>
<text transform="translate(506.0 58.5) scale(1.15 1)" text-anchor="start" font-size="13.8" xml:space="preserve">B=0.25</text>
<rect x="454" y="71" width="47" height="4" fill="#ffff00" shape-rendering="crispEdges"/>
<text transform="translate(506.0 77.8) scale(1.15 1)" text-anchor="start" font-size="13.8" xml:space="preserve"> C=0.50</text>
<rect x="454" y="90" width="47" height="4" fill="#ff00ff" shape-rendering="crispEdges"/>
<text transform="translate(506.0 97.1) scale(1.15 1)" text-anchor="start" font-size="13.8" xml:space="preserve">D=0.75</text>
<rect x="454" y="110" width="47" height="4" fill="#0000ff" shape-rendering="crispEdges"/>
<text transform="translate(506.0 116.4) scale(1.15 1)" text-anchor="start" font-size="13.8" xml:space="preserve">E=1</text>
<text class="ser" x="299.7" y="441.7" text-anchor="middle" font-size="14">(i)</text>
<g shape-rendering="crispEdges" stroke="#000" stroke-width="1" fill="none">
<rect x="73.5" y="474.5" width="509.0" height="357.0"/>
<path d="M146.5 831.5v-6M146.5 474.5v5.5M218.5 831.5v-6M218.5 474.5v5.5M291.5 831.5v-6M291.5 474.5v5.5M364.5 831.5v-6M364.5 474.5v5.5M437.5 831.5v-6M437.5 474.5v5.5M509.5 831.5v-6M509.5 474.5v5.5M73.5 772.5h4.5M582.5 772.5h-6.5M73.5 712.5h4.5M582.5 712.5h-6.5M73.5 653.5h4.5M582.5 653.5h-6.5M73.5 593.5h4.5M582.5 593.5h-6.5M73.5 534.5h4.5M582.5 534.5h-6.5"/></g>
<g clip-path="url(#c2)"><g transform="scale(1.1 1)" fill="none" stroke-width="4.1" stroke-linejoin="round" shape-rendering="crispEdges">
<path stroke="#00ffff" d="M66.82 533.50 L68.06 532.49 L69.23 531.41 L70.33 530.27 L71.33 529.04 L72.21 527.70 L73.04 526.27 L73.86 524.84 L74.73 523.46 L75.68 522.17 L76.69 520.86 L77.76 519.60 L78.89 518.48 L80.12 517.61 L81.52 516.82 L82.99 516.33 L84.43 516.44 L85.90 516.99 L87.33 517.79 L88.64 518.67 L89.79 519.63 L90.85 520.82 L91.85 522.15 L92.80 523.52 L93.72 524.85 L94.60 526.21 L95.43 527.61 L96.25 529.03 L97.06 530.45 L97.88 531.86 L98.72 533.26 L99.57 534.66 L100.41 536.06 L101.22 537.48 L101.98 538.92 L102.69 540.38 L103.36 541.88 L103.99 543.40 L104.60 544.94 L105.20 546.48 L105.79 548.02 L106.40 549.57 L107.01 551.10 L107.62 552.63 L108.23 554.16 L108.84 555.69 L109.45 557.23 L110.05 558.77 L110.65 560.30 L111.25 561.84 L111.84 563.38 L112.43 564.92 L113.02 566.46 L113.61 568.01 L114.20 569.55 L114.78 571.09 L115.37 572.64 L115.96 574.18 L116.54 575.73 L117.12 577.27 L117.70 578.82 L118.28 580.36 L118.86 581.91 L119.44 583.46 L120.02 585.01 L120.60 586.55 L121.18 588.10 L121.76 589.65 L122.33 591.20 L122.91 592.75 L123.48 594.30 L124.06 595.84 L124.63 597.39 L125.20 598.94 L125.78 600.49 L126.35 602.04 L126.93 603.59 L127.50 605.14 L128.08 606.69 L128.66 608.24 L129.23 609.78 L129.81 611.33 L130.39 612.88 L130.96 614.43 L131.54 615.98 L132.11 617.53 L132.68 619.08 L133.26 620.63 L133.84 622.17 L134.41 623.72 L134.99 625.27 L135.57 626.81 L136.16 628.36 L136.75 629.90 L137.34 631.44 L137.93 632.98 L138.53 634.52 L139.13 636.06 L139.73 637.60 L140.33 639.13 L140.93 640.67 L141.54 642.21 L142.15 643.74 L142.76 645.27 L143.37 646.80 L143.99 648.33 L144.61 649.86 L145.24 651.39 L145.87 652.91 L146.50 654.43 L147.14 655.95 L147.79 657.46 L148.44 658.97 L149.09 660.48 L149.75 661.99 L150.42 663.49 L151.08 665.00 L151.76 666.50 L152.43 668.00 L153.12 669.50 L153.80 670.99 L154.50 672.48 L155.19 673.97 L155.90 675.46 L156.61 676.94 L157.32 678.41 L158.04 679.88 L158.77 681.35 L159.51 682.81 L160.25 684.27 L161.00 685.72 L161.76 687.17 L162.52 688.62 L163.29 690.07 L164.06 691.51 L164.85 692.95 L165.63 694.38 L166.43 695.81 L167.23 697.24 L168.04 698.66 L168.86 700.07 L169.68 701.48 L170.51 702.88 L171.35 704.28 L172.19 705.67 L173.04 707.05 L173.90 708.43 L174.76 709.80 L175.64 711.16 L176.53 712.52 L177.42 713.87 L178.32 715.22 L179.24 716.56 L180.16 717.90 L181.08 719.23 L182.02 720.55 L182.96 721.87 L183.90 723.19 L184.86 724.49 L185.82 725.79 L186.78 727.09 L187.75 728.38 L188.72 729.66 L189.70 730.94 L190.69 732.21 L191.68 733.47 L192.69 734.73 L193.70 735.98 L194.72 737.22 L195.75 738.45 L196.79 739.68 L197.84 740.90 L198.89 742.11 L199.94 743.31 L201.01 744.51 L202.08 745.69 L203.16 746.87 L204.24 748.03 L205.34 749.19 L206.45 750.35 L207.55 751.49 L208.67 752.63 L209.79 753.77 L210.91 754.90 L212.04 756.02 L213.16 757.15 L214.29 758.27 L215.43 759.38 L216.57 760.49 L217.72 761.59 L218.87 762.68 L220.03 763.77 L221.18 764.86 L222.33 765.96 L223.49 767.06 L224.64 768.15 L225.80 769.24 L226.97 770.31 L228.15 771.38 L229.33 772.43 L230.52 773.46 L231.73 774.47 L232.95 775.46 L234.18 776.42 L235.43 777.38 L236.68 778.32 L237.95 779.25 L239.23 780.16 L240.52 781.06 L241.82 781.94 L243.12 782.81 L244.43 783.67 L245.75 784.51 L247.07 785.33 L248.39 786.13 L249.73 786.92 L251.08 787.69 L252.44 788.45 L253.80 789.20 L255.17 789.93 L256.54 790.66 L257.92 791.38 L259.30 792.09 L260.68 792.80 L262.05 793.51 L263.43 794.22 L264.81 794.94 L266.19 795.65 L267.57 796.35 L268.96 797.05 L270.35 797.73 L271.75 798.39 L273.15 799.03 L274.56 799.65 L275.98 800.24 L277.40 800.80 L278.84 801.34 L280.28 801.87 L281.73 802.38 L283.19 802.88 L284.64 803.37 L286.10 803.85 L287.56 804.33 L289.02 804.81 L290.48 805.29 L291.94 805.76 L293.40 806.24 L294.86 806.71 L296.32 807.17 L297.78 807.63 L299.25 808.08 L300.71 808.52 L302.18 808.95 L303.65 809.38 L305.13 809.79 L306.60 810.20 L308.08 810.61 L309.55 811.00 L311.03 811.40 L312.52 811.78 L314.00 812.15 L315.48 812.52 L316.97 812.88 L318.46 813.22 L319.94 813.56 L321.44 813.89 L322.93 814.21 L324.42 814.52 L325.92 814.83 L327.42 815.13 L328.91 815.42 L330.41 815.71 L331.91 815.99 L333.41 816.25 L334.91 816.52 L336.42 816.77 L337.92 817.02 L339.43 817.26 L340.93 817.50 L342.44 817.73 L343.95 817.97 L345.45 818.19 L346.96 818.42 L348.47 818.65 L349.97 818.87 L351.48 819.08 L352.99 819.30 L354.50 819.51 L356.01 819.72 L357.52 819.92 L359.03 820.13 L360.54 820.34 L362.05 820.54 L363.55 820.76 L365.06 820.97 L366.57 821.18 L368.08 821.40 L369.59 821.60 L371.10 821.80 L372.61 821.99 L374.12 822.17 L375.64 822.34 L377.15 822.50 L378.66 822.65 L380.18 822.79 L381.69 822.94 L383.21 823.07 L384.73 823.20 L386.24 823.33 L387.76 823.46 L389.28 823.58 L390.80 823.70 L392.31 823.82 L393.83 823.93 L395.35 824.05 L396.86 824.16 L398.38 824.28 L399.90 824.39 L401.42 824.50 L402.94 824.61 L404.45 824.71 L405.97 824.82 L407.49 824.92 L409.01 825.02 L410.53 825.12 L412.05 825.21 L413.56 825.31 L415.08 825.40 L416.60 825.49 L418.12 825.57 L419.64 825.65 L421.16 825.73 L422.68 825.81 L424.20 825.88 L425.72 825.95 L427.24 826.03 L428.76 826.09 L430.27 826.16 L431.79 826.23 L433.31 826.29 L434.83 826.36 L436.35 826.42 L437.87 826.48 L439.39 826.54 L440.91 826.60 L442.44 826.65 L443.96 826.71 L445.48 826.77 L447.00 826.82 L448.52 826.88 L450.04 826.93 L451.56 826.99 L453.08 827.04 L454.60 827.10 L456.12 827.15 L457.64 827.21 L459.16 827.26 L460.68 827.31 L462.20 827.36 L463.72 827.42 L465.24 827.46 L466.76 827.51 L468.28 827.56 L469.80 827.60 L471.32 827.65 L472.84 827.69 L474.36 827.73 L475.88 827.77 L477.40 827.80 L478.92 827.84 L480.44 827.87 L481.96 827.91 L483.48 827.94 L485.00 827.97 L486.52 828.00 L488.05 828.04 L489.57 828.07 L491.09 828.10 L492.61 828.13 L494.13 828.16 L495.65 828.19 L497.17 828.22 L498.69 828.25 L500.21 828.28 L501.73 828.30 L503.25 828.33 L504.77 828.36 L506.29 828.38 L507.82 828.40 L509.34 828.43 L510.86 828.45 L512.38 828.47 L513.90 828.49 L515.42 828.51 L516.94 828.53 L518.46 828.54 L519.98 828.56 L521.50 828.57 L523.02 828.59 L524.55 828.60"/>
<path stroke="#ff0000" d="M66.82 533.50 L66.86 535.37 L66.90 537.24 L66.95 539.10 L67.01 540.97 L67.06 542.84 L67.12 544.71 L67.19 546.57 L67.25 548.44 L67.32 550.31 L67.39 552.17 L67.47 554.04 L67.54 555.91 L67.62 557.77 L67.71 559.64 L67.80 561.50 L67.89 563.37 L68.00 565.23 L68.10 567.10 L68.21 568.96 L68.32 570.83 L68.44 572.69 L68.56 574.56 L68.68 576.42 L68.80 578.29 L68.92 580.15 L69.04 582.01 L69.17 583.87 L69.30 585.74 L69.44 587.60 L69.58 589.46 L69.72 591.33 L69.87 593.19 L70.02 595.05 L70.18 596.91 L70.34 598.77 L70.51 600.63 L70.70 602.48 L70.89 604.34 L71.10 606.19 L71.32 608.05 L71.54 609.90 L71.76 611.75 L71.98 613.60 L72.20 615.46 L72.41 617.31 L72.60 619.17 L72.79 621.02 L72.97 622.88 L73.15 624.74 L73.33 626.60 L73.50 628.46 L73.67 630.32 L73.84 632.18 L74.00 634.04 L74.16 635.90 L74.32 637.76 L74.48 639.62 L74.63 641.48 L74.78 643.34 L74.92 645.20 L75.06 647.06 L75.20 648.93 L75.33 650.79 L75.48 652.65 L75.62 654.51 L75.77 656.37 L75.93 658.23 L76.10 660.09 L76.28 661.95 L76.46 663.81 L76.64 665.66 L76.84 667.52 L77.03 669.38 L77.23 671.23 L77.44 673.09 L77.65 674.94 L77.86 676.80 L78.08 678.65 L78.30 680.51 L78.53 682.36 L78.76 684.21 L78.99 686.06 L79.23 687.91 L79.48 689.77 L79.72 691.61 L79.97 693.46 L80.23 695.31 L80.49 697.16 L80.75 699.00 L81.01 700.85 L81.28 702.69 L81.55 704.53 L81.83 706.37 L82.11 708.21 L82.39 710.05 L82.68 711.90 L82.98 713.74 L83.28 715.58 L83.58 717.42 L83.90 719.26 L84.21 721.10 L84.54 722.94 L84.87 724.77 L85.20 726.61 L85.55 728.44 L85.90 730.27 L86.25 732.10 L86.62 733.93 L86.99 735.75 L87.37 737.58 L87.75 739.39 L88.14 741.21 L88.54 743.02 L88.95 744.83 L89.37 746.64 L89.80 748.44 L90.28 750.23 L90.78 752.01 L91.30 753.79 L91.83 755.57 L92.36 757.35 L92.89 759.12 L93.41 760.90 L93.94 762.68 L94.46 764.46 L94.99 766.23 L95.52 768.01 L96.06 769.78 L96.59 771.55 L97.13 773.33 L97.67 775.10 L98.19 776.88 L98.71 778.67 L99.22 780.46 L99.73 782.24 L100.26 784.02 L100.81 785.79 L101.39 787.54 L102.00 789.27 L102.65 790.99 L103.32 792.73 L104.01 794.48 L104.74 796.22 L105.49 797.93 L106.29 799.60 L107.14 801.22 L108.03 802.77 L108.98 804.24 L110.03 805.62 L111.22 806.94 L112.52 808.19 L113.86 809.40 L115.22 810.57 L116.56 811.70 L117.94 812.79 L119.35 813.85 L120.78 814.86 L122.22 815.85 L123.68 816.80 L125.16 817.74 L126.65 818.64 L128.17 819.48 L129.71 820.25 L131.27 820.96 L132.87 821.63 L134.47 822.25 L136.09 822.83 L137.71 823.36 L139.35 823.86 L141.00 824.33 L142.65 824.78 L144.30 825.23 L145.95 825.68 L147.60 826.12 L149.26 826.54 L150.92 826.93 L152.59 827.28 L154.26 827.58 L155.94 827.84 L157.62 828.08 L159.31 828.31 L161.00 828.52 L162.69 828.71 L164.38 828.88 L166.08 829.04 L167.77 829.17 L169.47 829.29 L171.16 829.41 L172.86 829.53 L174.55 829.64 L176.25 829.74 L177.95 829.82 L179.65 829.87 L181.34 829.90 L183.04 829.90 L184.74 829.90 L186.44 829.90 L188.13 829.90 L189.83 829.90 L191.53 829.90 L193.23 829.90 L194.92 829.90 L196.62 829.90 L198.32 829.90 L200.02 829.90 L201.71 829.90 L203.41 829.90 L205.11 829.90 L206.81 829.90 L208.50 829.90 L210.20 829.90 L211.90 829.90 L213.60 829.90 L215.29 829.90 L216.99 829.90 L218.69 829.90 L220.38 829.90 L222.08 829.90 L223.78 829.90 L225.48 829.90 L227.18 829.90 L228.87 829.90 L230.57 829.90 L232.27 829.90 L233.97 829.90 L235.66 829.90 L237.36 829.90 L239.06 829.90 L240.76 829.90 L242.45 829.90 L244.15 829.90 L245.85 829.90 L247.55 829.90 L249.24 829.90 L250.94 829.90 L252.64 829.90 L254.34 829.90 L256.03 829.90 L257.73 829.90 L259.43 829.90 L261.13 829.90 L262.83 829.90 L264.52 829.90 L266.22 829.90 L267.92 829.90 L269.62 829.90 L271.31 829.90 L273.01 829.90 L274.71 829.90 L276.41 829.90 L278.11 829.90 L279.80 829.90 L281.50 829.90 L283.20 829.90 L284.90 829.90 L286.59 829.90 L288.29 829.90 L289.99 829.90 L291.69 829.90 L293.39 829.90 L295.08 829.90 L296.78 829.90 L298.48 829.90 L300.18 829.90 L301.88 829.90 L303.57 829.90 L305.27 829.90 L306.97 829.90 L308.67 829.90 L310.37 829.90 L312.06 829.90 L313.76 829.90 L315.46 829.90 L317.16 829.90 L318.86 829.90 L320.55 829.90 L322.25 829.90 L323.95 829.90 L325.65 829.90 L327.35 829.90 L329.04 829.90 L330.74 829.90 L332.44 829.90 L334.14 829.90 L335.84 829.90 L337.54 829.90 L339.23 829.90 L340.93 829.90 L342.63 829.90 L344.33 829.90 L346.03 829.90 L347.73 829.90 L349.42 829.90 L351.12 829.90 L352.82 829.90 L354.52 829.90 L356.22 829.90 L357.92 829.90 L359.61 829.90 L361.31 829.90 L363.01 829.90 L364.71 829.90 L366.41 829.90 L368.11 829.90 L369.81 829.90 L371.50 829.90 L373.20 829.90 L374.90 829.90 L376.60 829.90 L378.30 829.90 L380.00 829.90 L381.70 829.90 L383.39 829.90 L385.09 829.90 L386.79 829.90 L388.49 829.90 L390.19 829.90 L391.89 829.90 L393.59 829.90 L395.29 829.90 L396.98 829.90 L398.68 829.90 L400.38 829.90 L402.08 829.90 L403.78 829.90 L405.48 829.90 L407.18 829.90 L408.88 829.90 L410.57 829.90 L412.27 829.90 L413.97 829.90 L415.67 829.90 L417.37 829.90 L419.07 829.90 L420.77 829.90 L422.47 829.90 L424.17 829.90 L425.87 829.90 L427.56 829.90 L429.26 829.90 L430.96 829.90 L432.66 829.90 L434.36 829.90 L436.06 829.90 L437.76 829.90 L439.46 829.90 L441.16 829.90 L442.86 829.90 L444.56 829.90 L446.26 829.90 L447.96 829.90 L449.65 829.90 L451.35 829.90 L453.05 829.90 L454.75 829.90 L456.45 829.90 L458.15 829.90 L459.85 829.90 L461.55 829.90 L463.25 829.90 L464.95 829.90 L466.65 829.90 L468.35 829.90 L470.05 829.90 L471.75 829.90 L473.45 829.90 L475.15 829.90 L476.85 829.90 L478.55 829.90 L480.25 829.90 L481.95 829.90 L483.64 829.90 L485.34 829.90 L487.04 829.90 L488.74 829.90 L490.44 829.90 L492.14 829.90 L493.84 829.90 L495.54 829.90 L497.24 829.90 L498.94 829.90 L500.64 829.90 L502.34 829.90 L504.04 829.90 L505.74 829.90 L507.44 829.90 L509.14 829.90 L510.84 829.90 L512.54 829.90 L514.24 829.90 L515.94 829.90 L517.64 829.90 L519.34 829.90 L521.04 829.90 L522.74 829.90 L524.44 829.90 L526.14 829.90 L527.85 829.90 L529.55 829.90"/>
<path stroke="#ffff00" d="M66.82 533.50 L66.87 535.40 L66.93 537.30 L66.99 539.20 L67.05 541.11 L67.11 543.01 L67.18 544.91 L67.24 546.81 L67.31 548.71 L67.38 550.61 L67.44 552.51 L67.51 554.41 L67.59 556.31 L67.66 558.22 L67.73 560.12 L67.81 562.02 L67.89 563.92 L67.97 565.82 L68.05 567.72 L68.13 569.62 L68.22 571.52 L68.31 573.42 L68.40 575.32 L68.49 577.22 L68.58 579.12 L68.67 581.02 L68.76 582.92 L68.85 584.82 L68.94 586.72 L69.03 588.62 L69.11 590.52 L69.20 592.42 L69.28 594.32 L69.37 596.22 L69.45 598.12 L69.53 600.02 L69.62 601.92 L69.70 603.82 L69.78 605.72 L69.87 607.62 L69.96 609.52 L70.05 611.42 L70.14 613.32 L70.23 615.22 L70.33 617.12 L70.43 619.02 L70.53 620.92 L70.64 622.82 L70.76 624.71 L70.87 626.61 L70.99 628.51 L71.12 630.41 L71.24 632.31 L71.37 634.20 L71.50 636.10 L71.64 638.00 L71.77 639.89 L71.91 641.79 L72.05 643.69 L72.19 645.58 L72.34 647.48 L72.49 649.37 L72.64 651.27 L72.79 653.16 L72.95 655.06 L73.11 656.95 L73.27 658.85 L73.43 660.74 L73.59 662.64 L73.75 664.53 L73.92 666.42 L74.09 668.32 L74.26 670.21 L74.43 672.10 L74.60 674.00 L74.78 675.89 L74.95 677.78 L75.13 679.67 L75.31 681.57 L75.49 683.46 L75.67 685.35 L75.85 687.24 L76.04 689.14 L76.22 691.03 L76.40 692.92 L76.59 694.81 L76.78 696.70 L76.96 698.59 L77.15 700.48 L77.34 702.38 L77.52 704.27 L77.71 706.16 L77.89 708.05 L78.06 709.95 L78.23 711.85 L78.40 713.74 L78.57 715.64 L78.74 717.54 L78.90 719.44 L79.07 721.34 L79.24 723.24 L79.42 725.14 L79.60 727.03 L79.78 728.93 L79.97 730.82 L80.17 732.71 L80.37 734.60 L80.59 736.49 L80.81 738.37 L81.04 740.25 L81.29 742.13 L81.55 744.00 L81.83 745.86 L82.12 747.73 L82.47 749.58 L82.89 751.42 L83.34 753.26 L83.81 755.10 L84.29 756.94 L84.75 758.77 L85.19 760.61 L85.63 762.46 L86.06 764.30 L86.50 766.14 L86.94 767.98 L87.37 769.82 L87.81 771.66 L88.26 773.50 L88.70 775.34 L89.14 777.18 L89.57 779.02 L90.00 780.87 L90.43 782.71 L90.88 784.55 L91.34 786.38 L91.82 788.21 L92.33 790.02 L92.85 791.84 L93.38 793.66 L93.93 795.47 L94.50 797.28 L95.10 799.07 L95.73 800.85 L96.39 802.59 L97.10 804.31 L97.86 806.01 L98.69 807.69 L99.59 809.34 L100.54 810.94 L101.53 812.48 L102.58 813.98 L103.69 815.49 L104.86 816.95 L106.09 818.34 L107.37 819.63 L108.70 820.77 L110.10 821.78 L111.62 822.71 L113.21 823.55 L114.84 824.27 L116.47 824.85 L118.13 825.33 L119.83 825.76 L121.54 826.12 L123.24 826.44 L124.95 826.72 L126.67 826.97 L128.39 827.20 L130.10 827.41 L131.82 827.62 L133.54 827.81 L135.27 828.00 L136.99 828.18 L138.71 828.35 L140.44 828.50 L142.16 828.65 L143.88 828.80 L145.61 828.95 L147.33 829.11 L149.06 829.26 L150.79 829.41 L152.51 829.54 L154.24 829.65 L155.97 829.73 L157.69 829.79 L159.42 829.80 L161.15 829.80 L162.88 829.80 L164.60 829.80 L166.33 829.81 L168.06 829.81 L169.79 829.81 L171.51 829.81 L173.24 829.81 L174.97 829.81 L176.70 829.81 L178.42 829.81 L180.15 829.82 L181.88 829.82 L183.61 829.82 L185.34 829.82 L187.06 829.82 L188.79 829.82 L190.52 829.82 L192.25 829.82 L193.97 829.82 L195.70 829.83 L197.43 829.83 L199.16 829.83 L200.88 829.83 L202.61 829.83 L204.34 829.83 L206.07 829.83 L207.80 829.83 L209.52 829.83 L211.25 829.84 L212.98 829.84 L214.71 829.84 L216.43 829.84 L218.16 829.84 L219.89 829.84 L221.62 829.84 L223.35 829.84 L225.07 829.84 L226.80 829.84 L228.53 829.84 L230.26 829.85 L231.99 829.85 L233.71 829.85 L235.44 829.85 L237.17 829.85 L238.90 829.85 L240.63 829.85 L242.35 829.85 L244.08 829.85 L245.81 829.85 L247.54 829.85 L249.27 829.85 L250.99 829.86 L252.72 829.86 L254.45 829.86 L256.18 829.86 L257.91 829.86 L259.64 829.86 L261.36 829.86 L263.09 829.86 L264.82 829.86 L266.55 829.86 L268.28 829.86 L270.01 829.86 L271.73 829.86 L273.46 829.86 L275.19 829.87 L276.92 829.87 L278.65 829.87 L280.38 829.87 L282.10 829.87 L283.83 829.87 L285.56 829.87 L287.29 829.87 L289.02 829.87 L290.75 829.87 L292.48 829.87 L294.20 829.87 L295.93 829.87 L297.66 829.87 L299.39 829.87 L301.12 829.87 L302.85 829.88 L304.58 829.88 L306.31 829.88 L308.03 829.88 L309.76 829.88 L311.49 829.88 L313.22 829.88 L314.95 829.88 L316.68 829.88 L318.41 829.88 L320.14 829.88 L321.87 829.88 L323.60 829.88 L325.32 829.88 L327.05 829.88 L328.78 829.88 L330.51 829.88 L332.24 829.88 L333.97 829.88 L335.70 829.88 L337.43 829.88 L339.16 829.88 L340.89 829.88 L342.62 829.89 L344.35 829.89 L346.07 829.89 L347.80 829.89 L349.53 829.89 L351.26 829.89 L352.99 829.89 L354.72 829.89 L356.45 829.89 L358.18 829.89 L359.91 829.89 L361.64 829.89 L363.37 829.89 L365.10 829.89 L366.83 829.89 L368.56 829.89 L370.29 829.89 L372.02 829.89 L373.75 829.89 L375.48 829.89 L377.21 829.89 L378.94 829.89 L380.67 829.89 L382.40 829.89 L384.13 829.89 L385.86 829.89 L387.59 829.89 L389.32 829.89 L391.05 829.89 L392.78 829.89 L394.51 829.89 L396.24 829.89 L397.97 829.89 L399.70 829.89 L401.43 829.89 L403.16 829.89 L404.89 829.90 L406.62 829.90 L408.35 829.90 L410.08 829.90 L411.81 829.90 L413.54 829.90 L415.27 829.90 L417.00 829.90 L418.73 829.90 L420.46 829.90 L422.19 829.90 L423.92 829.90 L425.65 829.90 L427.38 829.90 L429.11 829.90 L430.84 829.90 L432.57 829.90 L434.30 829.90 L436.04 829.90 L437.77 829.90 L439.50 829.90 L441.23 829.90 L442.96 829.90 L444.69 829.90 L446.42 829.90 L448.15 829.90 L449.88 829.90 L451.61 829.90 L453.34 829.90 L455.08 829.90 L456.81 829.90 L458.54 829.90 L460.27 829.90 L462.00 829.90 L463.73 829.90 L465.46 829.90 L467.19 829.90 L468.93 829.90 L470.66 829.90 L472.39 829.90 L474.12 829.90 L475.85 829.90 L477.58 829.90 L479.31 829.90 L481.05 829.90 L482.78 829.90 L484.51 829.90 L486.24 829.90 L487.97 829.90 L489.70 829.90 L491.44 829.90 L493.17 829.90 L494.90 829.90 L496.63 829.90 L498.36 829.90 L500.10 829.90 L501.83 829.90 L503.56 829.90 L505.29 829.90 L507.02 829.90 L508.76 829.90 L510.49 829.90 L512.22 829.90 L513.95 829.90 L515.69 829.90 L517.42 829.90 L519.15 829.90 L520.88 829.90 L522.62 829.90 L524.35 829.90 L526.08 829.90 L527.81 829.90 L529.55 829.90"/>
<path stroke="#ff00ff" d="M66.82 533.50 L66.85 535.43 L66.88 537.37 L66.92 539.30 L66.95 541.23 L66.99 543.16 L67.02 545.10 L67.06 547.03 L67.10 548.96 L67.13 550.89 L67.17 552.83 L67.21 554.76 L67.25 556.69 L67.29 558.63 L67.33 560.56 L67.38 562.49 L67.42 564.42 L67.46 566.36 L67.51 568.29 L67.55 570.22 L67.60 572.15 L67.64 574.09 L67.69 576.02 L67.74 577.95 L67.79 579.88 L67.84 581.81 L67.89 583.75 L67.94 585.68 L67.99 587.61 L68.04 589.54 L68.10 591.48 L68.15 593.41 L68.21 595.34 L68.26 597.27 L68.32 599.20 L68.38 601.14 L68.44 603.07 L68.49 605.00 L68.55 606.93 L68.61 608.87 L68.67 610.80 L68.73 612.73 L68.78 614.66 L68.84 616.60 L68.89 618.53 L68.94 620.46 L69.00 622.40 L69.05 624.33 L69.10 626.26 L69.16 628.20 L69.22 630.13 L69.28 632.06 L69.34 633.99 L69.41 635.93 L69.48 637.86 L69.56 639.79 L69.64 641.72 L69.73 643.65 L69.82 645.58 L69.92 647.50 L70.03 649.43 L70.17 651.35 L70.35 653.28 L70.56 655.20 L70.78 657.12 L70.99 659.04 L71.18 660.96 L71.34 662.88 L71.49 664.81 L71.64 666.74 L71.77 668.66 L71.91 670.59 L72.04 672.52 L72.16 674.44 L72.29 676.37 L72.41 678.30 L72.53 680.23 L72.64 682.16 L72.76 684.09 L72.87 686.02 L72.98 687.95 L73.10 689.88 L73.21 691.81 L73.32 693.74 L73.44 695.67 L73.56 697.60 L73.68 699.52 L73.80 701.45 L73.93 703.38 L74.05 705.31 L74.18 707.24 L74.30 709.17 L74.42 711.10 L74.54 713.03 L74.66 714.96 L74.77 716.89 L74.89 718.82 L75.00 720.75 L75.12 722.68 L75.24 724.61 L75.36 726.54 L75.49 728.47 L75.62 730.40 L75.75 732.33 L75.89 734.26 L76.04 736.18 L76.19 738.11 L76.35 740.03 L76.52 741.95 L76.69 743.87 L76.88 745.79 L77.08 747.70 L77.32 749.62 L77.61 751.52 L77.92 753.43 L78.24 755.33 L78.54 757.24 L78.82 759.15 L79.06 761.06 L79.29 762.98 L79.49 764.90 L79.69 766.82 L79.89 768.74 L80.09 770.66 L80.30 772.58 L80.52 774.50 L80.75 776.41 L80.98 778.33 L81.21 780.26 L81.45 782.17 L81.71 784.09 L81.98 786.00 L82.27 787.90 L82.60 789.79 L82.96 791.68 L83.35 793.57 L83.78 795.45 L84.25 797.33 L84.74 799.19 L85.27 801.04 L85.82 802.87 L86.40 804.68 L87.02 806.49 L87.69 808.29 L88.41 810.08 L89.19 811.84 L90.01 813.56 L90.89 815.22 L91.82 816.81 L92.88 818.38 L94.05 819.88 L95.30 821.24 L96.63 822.41 L98.09 823.49 L99.65 824.47 L101.25 825.33 L102.86 826.05 L104.52 826.68 L106.21 827.23 L107.92 827.72 L109.63 828.16 L111.35 828.58 L113.08 828.96 L114.82 829.23 L116.56 829.39 L118.31 829.53 L120.07 829.65 L121.83 829.75 L123.59 829.83 L125.35 829.88 L127.11 829.90 L128.86 829.90 L130.62 829.90 L132.37 829.90 L134.13 829.90 L135.89 829.90 L137.64 829.90 L139.40 829.90 L141.16 829.90 L142.91 829.90 L144.67 829.90 L146.42 829.90 L148.18 829.90 L149.94 829.90 L151.69 829.90 L153.45 829.90 L155.20 829.90 L156.96 829.90 L158.72 829.90 L160.47 829.90 L162.23 829.90 L163.99 829.90 L165.74 829.90 L167.50 829.90 L169.26 829.90 L171.01 829.90 L172.77 829.90 L174.52 829.90 L176.28 829.90 L178.04 829.90 L179.79 829.90 L181.55 829.90 L183.31 829.90 L185.06 829.90 L186.82 829.90 L188.57 829.90 L190.33 829.90 L192.09 829.90 L193.84 829.90 L195.60 829.90 L197.36 829.90 L199.11 829.90 L200.87 829.90 L202.63 829.90 L204.38 829.90 L206.14 829.90 L207.90 829.90 L209.65 829.90 L211.41 829.90 L213.17 829.90 L214.92 829.90 L216.68 829.90 L218.43 829.90 L220.19 829.90 L221.95 829.90 L223.70 829.90 L225.46 829.90 L227.22 829.90 L228.97 829.90 L230.73 829.90 L232.49 829.90 L234.24 829.90 L236.00 829.90 L237.76 829.90 L239.51 829.90 L241.27 829.90 L243.03 829.90 L244.78 829.90 L246.54 829.90 L248.30 829.90 L250.05 829.90 L251.81 829.90 L253.57 829.90 L255.32 829.90 L257.08 829.90 L258.84 829.90 L260.59 829.90 L262.35 829.90 L264.11 829.90 L265.86 829.90 L267.62 829.90 L269.38 829.90 L271.14 829.90 L272.89 829.90 L274.65 829.90 L276.41 829.90 L278.16 829.90 L279.92 829.90 L281.68 829.90 L283.43 829.90 L285.19 829.90 L286.95 829.90 L288.70 829.90 L290.46 829.90 L292.22 829.90 L293.97 829.90 L295.73 829.90 L297.49 829.90 L299.25 829.90 L301.00 829.90 L302.76 829.90 L304.52 829.90 L306.27 829.90 L308.03 829.90 L309.79 829.90 L311.55 829.90 L313.30 829.90 L315.06 829.90 L316.82 829.90 L318.57 829.90 L320.33 829.90 L322.09 829.90 L323.85 829.90 L325.60 829.90 L327.36 829.90 L329.12 829.90 L330.87 829.90 L332.63 829.90 L334.39 829.90 L336.15 829.90 L337.90 829.90 L339.66 829.90 L341.42 829.90 L343.18 829.90 L344.93 829.90 L346.69 829.90 L348.45 829.90 L350.20 829.90 L351.96 829.90 L353.72 829.90 L355.48 829.90 L357.23 829.90 L358.99 829.90 L360.75 829.90 L362.51 829.90 L364.26 829.90 L366.02 829.90 L367.78 829.90 L369.54 829.90 L371.29 829.90 L373.05 829.90 L374.81 829.90 L376.57 829.90 L378.33 829.90 L380.08 829.90 L381.84 829.90 L383.60 829.90 L385.36 829.90 L387.11 829.90 L388.87 829.90 L390.63 829.90 L392.39 829.90 L394.14 829.90 L395.90 829.90 L397.66 829.90 L399.42 829.90 L401.18 829.90 L402.93 829.90 L404.69 829.90 L406.45 829.90 L408.21 829.90 L409.97 829.90 L411.72 829.90 L413.48 829.90 L415.24 829.90 L417.00 829.90 L418.76 829.90 L420.51 829.90 L422.27 829.90 L424.03 829.90 L425.79 829.90 L427.55 829.90 L429.30 829.90 L431.06 829.90 L432.82 829.90 L434.58 829.90 L436.34 829.90 L438.09 829.90 L439.85 829.90 L441.61 829.90 L443.37 829.90 L445.13 829.90 L446.89 829.90 L448.64 829.90 L450.40 829.90 L452.16 829.90 L453.92 829.90 L455.68 829.90 L457.44 829.90 L459.19 829.90 L460.95 829.90 L462.71 829.90 L464.47 829.90 L466.23 829.90 L467.99 829.90 L469.74 829.90 L471.50 829.90 L473.26 829.90 L475.02 829.90 L476.78 829.90 L478.54 829.90 L480.30 829.90 L482.05 829.90 L483.81 829.90 L485.57 829.90 L487.33 829.90 L489.09 829.90 L490.85 829.90 L492.61 829.90 L494.37 829.90 L496.12 829.90 L497.88 829.90 L499.64 829.90 L501.40 829.90 L503.16 829.90 L504.92 829.90 L506.68 829.90 L508.44 829.90 L510.20 829.90 L511.95 829.90 L513.71 829.90 L515.47 829.90 L517.23 829.90 L518.99 829.90 L520.75 829.90 L522.51 829.90 L524.27 829.90 L526.03 829.90 L527.79 829.90 L529.55 829.90"/>
<path stroke="#0000ff" d="M66.82 533.50 L66.87 535.45 L66.93 537.40 L66.99 539.36 L67.04 541.31 L67.09 543.26 L67.15 545.21 L67.20 547.17 L67.25 549.12 L67.30 551.07 L67.35 553.02 L67.40 554.97 L67.44 556.93 L67.49 558.88 L67.53 560.83 L67.58 562.78 L67.62 564.74 L67.66 566.69 L67.70 568.64 L67.74 570.59 L67.78 572.55 L67.81 574.50 L67.85 576.45 L67.88 578.40 L67.91 580.36 L67.95 582.31 L67.97 584.26 L68.00 586.21 L68.03 588.17 L68.05 590.12 L68.08 592.07 L68.10 594.03 L68.13 595.98 L68.15 597.93 L68.17 599.88 L68.19 601.84 L68.21 603.79 L68.24 605.74 L68.26 607.70 L68.28 609.65 L68.30 611.60 L68.32 613.55 L68.34 615.51 L68.37 617.46 L68.39 619.41 L68.41 621.37 L68.44 623.32 L68.46 625.27 L68.49 627.22 L68.51 629.18 L68.54 631.13 L68.56 633.08 L68.59 635.04 L68.61 636.99 L68.63 638.94 L68.66 640.89 L68.68 642.85 L68.71 644.80 L68.74 646.75 L68.76 648.71 L68.79 650.66 L68.82 652.61 L68.86 654.56 L68.89 656.52 L68.93 658.47 L68.97 660.42 L69.01 662.37 L69.06 664.32 L69.11 666.28 L69.17 668.23 L69.23 670.18 L69.30 672.13 L69.38 674.08 L69.46 676.03 L69.54 677.98 L69.63 679.93 L69.72 681.88 L69.82 683.84 L69.92 685.79 L70.01 687.74 L70.12 689.69 L70.22 691.64 L70.32 693.59 L70.43 695.54 L70.53 697.49 L70.64 699.44 L70.74 701.39 L70.85 703.34 L70.95 705.28 L71.05 707.23 L71.16 709.18 L71.27 711.13 L71.37 713.08 L71.48 715.03 L71.60 716.98 L71.71 718.93 L71.82 720.88 L71.94 722.83 L72.06 724.78 L72.18 726.73 L72.31 728.68 L72.44 730.63 L72.57 732.57 L72.70 734.52 L72.84 736.47 L72.98 738.41 L73.12 740.36 L73.27 742.31 L73.42 744.25 L73.57 746.20 L73.73 748.14 L73.91 750.08 L74.10 752.02 L74.30 753.97 L74.51 755.91 L74.71 757.85 L74.91 759.79 L75.09 761.73 L75.27 763.67 L75.45 765.62 L75.63 767.56 L75.81 769.51 L76.00 771.45 L76.21 773.39 L76.44 775.32 L76.69 777.25 L76.96 779.18 L77.26 781.11 L77.56 783.03 L77.87 784.96 L78.20 786.88 L78.52 788.80 L78.84 790.72 L79.17 792.64 L79.51 794.56 L79.85 796.47 L80.21 798.39 L80.57 800.30 L80.94 802.21 L81.33 804.12 L81.71 806.03 L82.07 807.98 L82.45 809.93 L82.86 811.85 L83.32 813.73 L83.86 815.54 L84.52 817.27 L85.40 819.00 L86.44 820.66 L87.60 822.21 L88.80 823.58 L90.11 824.86 L91.56 826.10 L93.12 827.18 L94.73 828.01 L96.37 828.53 L98.09 828.93 L99.88 829.25 L101.67 829.46 L103.44 829.57 L105.21 829.67 L106.98 829.75 L108.76 829.82 L110.54 829.87 L112.32 829.89 L114.09 829.90 L115.87 829.90 L117.64 829.90 L119.42 829.90 L121.19 829.90 L122.97 829.90 L124.74 829.90 L126.52 829.90 L128.29 829.90 L130.07 829.90 L131.84 829.90 L133.62 829.90 L135.39 829.90 L137.17 829.90 L138.94 829.90 L140.72 829.90 L142.49 829.90 L144.27 829.90 L146.04 829.90 L147.81 829.90 L149.59 829.90 L151.36 829.90 L153.14 829.90 L154.91 829.90 L156.69 829.90 L158.46 829.90 L160.24 829.90 L162.01 829.90 L163.79 829.90 L165.56 829.90 L167.34 829.90 L169.11 829.90 L170.89 829.90 L172.66 829.90 L174.44 829.90 L176.21 829.90 L177.99 829.90 L179.76 829.90 L181.54 829.90 L183.31 829.90 L185.09 829.90 L186.86 829.90 L188.64 829.90 L190.41 829.90 L192.19 829.90 L193.96 829.90 L195.74 829.90 L197.51 829.90 L199.29 829.90 L201.06 829.90 L202.84 829.90 L204.61 829.90 L206.39 829.90 L208.16 829.90 L209.94 829.90 L211.71 829.90 L213.49 829.90 L215.26 829.90 L217.04 829.90 L218.81 829.90 L220.59 829.90 L222.36 829.90 L224.14 829.90 L225.91 829.90 L227.69 829.90 L229.46 829.90 L231.24 829.90 L233.01 829.90 L234.79 829.90 L236.56 829.90 L238.34 829.90 L240.11 829.90 L241.89 829.90 L243.66 829.90 L245.44 829.90 L247.22 829.90 L248.99 829.90 L250.77 829.90 L252.54 829.90 L254.32 829.90 L256.09 829.90 L257.87 829.90 L259.64 829.90 L261.42 829.90 L263.19 829.90 L264.97 829.90 L266.74 829.90 L268.52 829.90 L270.29 829.90 L272.07 829.90 L273.84 829.90 L275.62 829.90 L277.39 829.90 L279.17 829.90 L280.94 829.90 L282.72 829.90 L284.49 829.90 L286.27 829.90 L288.04 829.90 L289.82 829.90 L291.60 829.90 L293.37 829.90 L295.15 829.90 L296.92 829.90 L298.70 829.90 L300.47 829.90 L302.25 829.90 L304.02 829.90 L305.80 829.90 L307.57 829.90 L309.35 829.90 L311.12 829.90 L312.90 829.90 L314.67 829.90 L316.45 829.90 L318.22 829.90 L320.00 829.90 L321.78 829.90 L323.55 829.90 L325.33 829.90 L327.10 829.90 L328.88 829.90 L330.65 829.90 L332.43 829.90 L334.20 829.90 L335.98 829.90 L337.75 829.90 L339.53 829.90 L341.31 829.90 L343.08 829.90 L344.86 829.90 L346.63 829.90 L348.41 829.90 L350.18 829.90 L351.96 829.90 L353.73 829.90 L355.51 829.90 L357.28 829.90 L359.06 829.90 L360.84 829.90 L362.61 829.90 L364.39 829.90 L366.16 829.90 L367.94 829.90 L369.71 829.90 L371.49 829.90 L373.26 829.90 L375.04 829.90 L376.82 829.90 L378.59 829.90 L380.37 829.90 L382.14 829.90 L383.92 829.90 L385.69 829.90 L387.47 829.90 L389.24 829.90 L391.02 829.90 L392.80 829.90 L394.57 829.90 L396.35 829.90 L398.12 829.90 L399.90 829.90 L401.67 829.90 L403.45 829.90 L405.23 829.90 L407.00 829.90 L408.78 829.90 L410.55 829.90 L412.33 829.90 L414.10 829.90 L415.88 829.90 L417.66 829.90 L419.43 829.90 L421.21 829.90 L422.98 829.90 L424.76 829.90 L426.53 829.90 L428.31 829.90 L430.09 829.90 L431.86 829.90 L433.64 829.90 L435.41 829.90 L437.19 829.90 L438.97 829.90 L440.74 829.90 L442.52 829.90 L444.29 829.90 L446.07 829.90 L447.84 829.90 L449.62 829.90 L451.40 829.90 L453.17 829.90 L454.95 829.90 L456.72 829.90 L458.50 829.90 L460.28 829.90 L462.05 829.90 L463.83 829.90 L465.60 829.90 L467.38 829.90 L469.16 829.90 L470.93 829.90 L472.71 829.90 L474.48 829.90 L476.26 829.90 L478.04 829.90 L479.81 829.90 L481.59 829.90 L483.36 829.90 L485.14 829.90 L486.92 829.90 L488.69 829.90 L490.47 829.90 L492.24 829.90 L494.02 829.90 L495.80 829.90 L497.57 829.90 L499.35 829.90 L501.13 829.90 L502.90 829.90 L504.68 829.90 L506.45 829.90 L508.23 829.90 L510.01 829.90 L511.78 829.90 L513.56 829.90 L515.34 829.90 L517.11 829.90 L518.89 829.90 L520.66 829.90 L522.44 829.90 L524.22 829.90 L525.99 829.90 L527.77 829.90 L529.55 829.90"/>
</g></g>
<path d="M320 828.5H582" stroke="#ff00ff" stroke-width="1" shape-rendering="crispEdges"/>
<text transform="translate(68.8 836) scale(1.12 1)" text-anchor="end" font-size="13.8" xml:space="preserve">0</text>
<text transform="translate(68.8 777) scale(1.12 1)" text-anchor="end" font-size="13.8" xml:space="preserve">10</text>
<text transform="translate(68.8 717) scale(1.12 1)" text-anchor="end" font-size="13.8" xml:space="preserve">20</text>
<text transform="translate(68.8 658) scale(1.12 1)" text-anchor="end" font-size="13.8" xml:space="preserve">30</text>
<text transform="translate(68.8 598) scale(1.12 1)" text-anchor="end" font-size="13.8" xml:space="preserve">40</text>
<text transform="translate(68.8 539) scale(1.12 1)" text-anchor="end" font-size="13.8" xml:space="preserve">50</text>
<text transform="translate(68.8 479) scale(1.12 1)" text-anchor="end" font-size="13.8" xml:space="preserve">60</text>
<text transform="translate(73.5 847) scale(1.12 1)" text-anchor="middle" font-size="13.8" xml:space="preserve">0</text>
<text transform="translate(146.2 847) scale(1.12 1)" text-anchor="middle" font-size="13.8" xml:space="preserve">10</text>
<text transform="translate(218.9 847) scale(1.12 1)" text-anchor="middle" font-size="13.8" xml:space="preserve">20</text>
<text transform="translate(291.6 847) scale(1.12 1)" text-anchor="middle" font-size="13.8" xml:space="preserve">30</text>
<text transform="translate(364.4 847) scale(1.12 1)" text-anchor="middle" font-size="13.8" xml:space="preserve">40</text>
<text transform="translate(437.1 847) scale(1.12 1)" text-anchor="middle" font-size="13.8" xml:space="preserve">50</text>
<text transform="translate(509.8 847) scale(1.12 1)" text-anchor="middle" font-size="13.8" xml:space="preserve">60</text>
<text transform="translate(582.5 847) scale(1.12 1)" text-anchor="middle" font-size="13.8" xml:space="preserve">70</text>
<text transform="translate(284.6 864.7) scale(1.065 1)" text-anchor="start" dx="0 0 0 0 0 0 2.6" font-size="13.8" xml:space="preserve">Time(Years)</text>
<text transform="translate(31.1 660.7) rotate(-90)" font-size="14.2">I<tspan x="4.2" y="7" font-size="12.4">m</tspan></text>
<rect x="448.5" y="482.5" width="122.0" height="101.5" fill="#fff" stroke="#000" stroke-width="1" shape-rendering="crispEdges"/>
<rect x="458" y="492" width="47" height="4" fill="#00ffff" shape-rendering="crispEdges"/>
<text transform="translate(510.0 498.8) scale(1.15 1)" text-anchor="start" font-size="13.8" xml:space="preserve">A =0</text>
<rect x="458" y="511" width="47" height="4" fill="#ff0000" shape-rendering="crispEdges"/>
<text transform="translate(510.0 518.4) scale(1.15 1)" text-anchor="start" font-size="13.8" xml:space="preserve">B=0.25</text>
<rect x="458" y="531" width="47" height="4" fill="#ffff00" shape-rendering="crispEdges"/>
<text transform="translate(510.0 538.0) scale(1.15 1)" text-anchor="start" font-size="13.8" xml:space="preserve"> C=0.50</text>
<rect x="458" y="550" width="47" height="4" fill="#ff00ff" shape-rendering="crispEdges"/>
<text transform="translate(510.0 557.6) scale(1.15 1)" text-anchor="start" font-size="13.8" xml:space="preserve">D=0.75</text>
<rect x="458" y="570" width="47" height="4" fill="#0000ff" shape-rendering="crispEdges"/>
<text transform="translate(510.0 577.2) scale(1.15 1)" text-anchor="start" font-size="13.8" xml:space="preserve">E=1</text>
<text class="ser" x="299.7" y="902.7" text-anchor="middle" font-size="14">(ii)</text>
</svg></body></html>
